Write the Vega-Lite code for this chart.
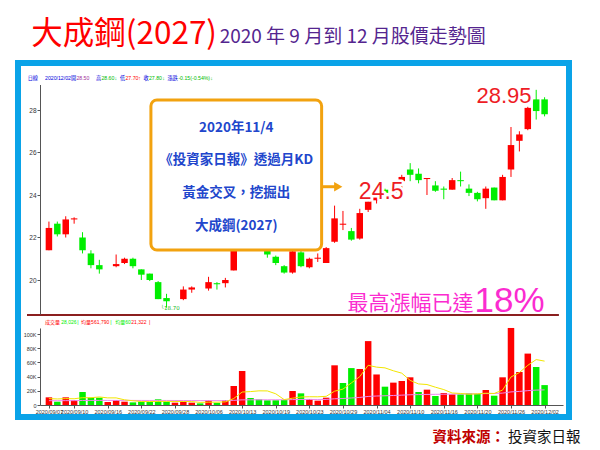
{
  "$schema": "https://vega.github.io/schema/vega-lite/v6.json",
  "width": 551,
  "height": 354,
  "autosize": {"type": "none"},
  "padding": {"left": 18, "top": 63, "right": 31, "bottom": 33},
  "background": "#ffffff",
  "config": {
    "view": {"stroke": "#0aa3e8", "strokeWidth": 6, "fill": "#ffffff"}
  },
  "datasets": {
    "k": [
      {"d": "2020/09/07", "i": 0, "o": 21.40, "h": 22.75, "l": 21.40, "c": 22.45, "v": 10800, "vd": "up", "ma5": 9000, "ma60": 6080},
      {"d": "2020/09/08", "i": 1, "o": 22.65, "h": 22.75, "l": 22.05, "c": 22.15, "v": 4700, "vd": "dn", "ma5": 8500, "ma60": 6060},
      {"d": "2020/09/09", "i": 2, "o": 22.15, "h": 23.00, "l": 22.00, "c": 22.85, "v": 10800, "vd": "up", "ma5": 9000, "ma60": 6140},
      {"d": "2020/09/10", "i": 3, "o": 22.85, "h": 22.95, "l": 22.65, "c": 22.90, "v": 7000, "vd": "up", "ma5": 8800, "ma60": 6160},
      {"d": "2020/09/11", "i": 4, "o": 22.00, "h": 22.25, "l": 21.25, "c": 21.40, "v": 18300, "vd": "dn", "ma5": 10320, "ma60": 6360},
      {"d": "2020/09/14", "i": 5, "o": 21.25, "h": 21.40, "l": 20.55, "c": 20.70, "v": 10300, "vd": "dn", "ma5": 10220, "ma60": 6430},
      {"d": "2020/09/15", "i": 6, "o": 20.70, "h": 20.95, "l": 20.30, "c": 20.50, "v": 10300, "vd": "dn", "ma5": 11340, "ma60": 6500},
      {"d": "2020/09/16", "i": 7, "o": 20.60, "h": 20.60, "l": 20.60, "c": 20.60, "v": 4200, "vd": "up", "ma5": 10020, "ma60": 6470},
      {"d": "2020/09/17", "i": 8, "o": 20.65, "h": 21.20, "l": 20.60, "c": 20.75, "v": 7000, "vd": "up", "ma5": 10020, "ma60": 6490},
      {"d": "2020/09/18", "i": 9, "o": 20.80, "h": 21.05, "l": 20.75, "c": 21.00, "v": 4700, "vd": "up", "ma5": 7300, "ma60": 6470},
      {"d": "2020/09/21", "i": 10, "o": 21.00, "h": 21.05, "l": 20.55, "c": 20.65, "v": 3700, "vd": "dn", "ma5": 5980, "ma60": 6430},
      {"d": "2020/09/22", "i": 11, "o": 20.50, "h": 20.50, "l": 20.00, "c": 20.25, "v": 4700, "vd": "dn", "ma5": 4860, "ma60": 6410},
      {"d": "2020/09/23", "i": 12, "o": 20.30, "h": 20.30, "l": 19.95, "c": 20.00, "v": 4200, "vd": "dn", "ma5": 4860, "ma60": 6380},
      {"d": "2020/09/24", "i": 13, "o": 19.90, "h": 19.95, "l": 19.10, "c": 19.10, "v": 8000, "vd": "dn", "ma5": 5060, "ma60": 6410},
      {"d": "2020/09/25", "i": 14, "o": 19.15, "h": 19.35, "l": 18.70, "c": 19.00, "v": 4700, "vd": "dn", "ma5": 5060, "ma60": 6390},
      {"d": "2020/09/28", "i": 15, "o": 19.05, "h": 19.05, "l": 19.05, "c": 19.05, "v": 3300, "vd": "up", "ma5": 4980, "ma60": 6350},
      {"d": "2020/09/29", "i": 16, "o": 19.10, "h": 19.70, "l": 19.05, "c": 19.55, "v": 4700, "vd": "up", "ma5": 4980, "ma60": 6320},
      {"d": "2020/09/30", "i": 17, "o": 19.55, "h": 19.70, "l": 19.40, "c": 19.65, "v": 3300, "vd": "up", "ma5": 4800, "ma60": 6280},
      {"d": "2020/10/05", "i": 18, "o": 19.60, "h": 19.60, "l": 19.60, "c": 19.60, "v": 2300, "vd": "dn", "ma5": 3660, "ma60": 6220},
      {"d": "2020/10/06", "i": 19, "o": 19.60, "h": 20.15, "l": 19.50, "c": 19.90, "v": 6500, "vd": "up", "ma5": 4020, "ma60": 6230},
      {"d": "2020/10/07", "i": 20, "o": 19.85, "h": 19.90, "l": 19.55, "c": 19.80, "v": 3000, "vd": "dn", "ma5": 3960, "ma60": 6180},
      {"d": "2020/10/08", "i": 21, "o": 19.85, "h": 20.10, "l": 19.65, "c": 20.00, "v": 7000, "vd": "up", "ma5": 4420, "ma60": 6190},
      {"d": "2020/10/12", "i": 22, "o": 20.45, "h": 21.90, "l": 20.45, "c": 21.85, "v": 26800, "vd": "up", "ma5": 9120, "ma60": 6540},
      {"d": "2020/10/13", "i": 23, "o": 21.90, "h": 22.60, "l": 21.60, "c": 22.20, "v": 47900, "vd": "up", "ma5": 18240, "ma60": 7240},
      {"d": "2020/10/14", "i": 24, "o": 22.20, "h": 22.40, "l": 21.80, "c": 21.90, "v": 9900, "vd": "dn", "ma5": 18920, "ma60": 7300},
      {"d": "2020/10/15", "i": 25, "o": 21.90, "h": 22.00, "l": 21.50, "c": 21.60, "v": 8000, "vd": "dn", "ma5": 19920, "ma60": 7340},
      {"d": "2020/10/16", "i": 26, "o": 21.50, "h": 21.55, "l": 21.05, "c": 21.20, "v": 6600, "vd": "dn", "ma5": 19840, "ma60": 7350},
      {"d": "2020/10/19", "i": 27, "o": 21.10, "h": 21.15, "l": 20.70, "c": 20.80, "v": 6600, "vd": "dn", "ma5": 15800, "ma60": 7360},
      {"d": "2020/10/20", "i": 28, "o": 20.65, "h": 20.70, "l": 20.30, "c": 20.35, "v": 7000, "vd": "dn", "ma5": 7620, "ma60": 7370},
      {"d": "2020/10/21", "i": 29, "o": 20.35, "h": 21.45, "l": 20.30, "c": 21.35, "v": 19700, "vd": "up", "ma5": 9580, "ma60": 7600},
      {"d": "2020/10/22", "i": 30, "o": 21.30, "h": 21.40, "l": 20.60, "c": 20.65, "v": 16400, "vd": "dn", "ma5": 11260, "ma60": 7770},
      {"d": "2020/10/23", "i": 31, "o": 20.60, "h": 21.05, "l": 20.55, "c": 21.00, "v": 8500, "vd": "up", "ma5": 11640, "ma60": 7820},
      {"d": "2020/10/26", "i": 32, "o": 21.00, "h": 21.25, "l": 20.85, "c": 21.05, "v": 6100, "vd": "up", "ma5": 11540, "ma60": 7820},
      {"d": "2020/10/27", "i": 33, "o": 20.80, "h": 21.55, "l": 20.80, "c": 21.50, "v": 10300, "vd": "up", "ma5": 12200, "ma60": 7890},
      {"d": "2020/10/28", "i": 34, "o": 21.80, "h": 23.50, "l": 21.75, "c": 22.90, "v": 55900, "vd": "up", "ma5": 19440, "ma60": 8720},
      {"d": "2020/10/29", "i": 35, "o": 22.60, "h": 23.25, "l": 22.35, "c": 22.65, "v": 31000, "vd": "dn", "ma5": 22360, "ma60": 9140},
      {"d": "2020/10/30", "i": 36, "o": 22.30, "h": 22.45, "l": 21.85, "c": 21.90, "v": 52000, "vd": "dn", "ma5": 31060, "ma60": 9900},
      {"d": "2020/11/02", "i": 37, "o": 21.95, "h": 23.35, "l": 21.90, "c": 23.15, "v": 50700, "vd": "up", "ma5": 39980, "ma60": 10650},
      {"d": "2020/11/03", "i": 38, "o": 23.30, "h": 23.90, "l": 23.20, "c": 23.70, "v": 90000, "vd": "up", "ma5": 55920, "ma60": 12050},
      {"d": "2020/11/04", "i": 39, "o": 23.75, "h": 24.50, "l": 23.60, "c": 24.35, "v": 43000, "vd": "up", "ma5": 53340, "ma60": 12670},
      {"d": "2020/11/05", "i": 40, "o": 24.25, "h": 24.30, "l": 24.00, "c": 24.10, "v": 25800, "vd": "dn", "ma5": 52300, "ma60": 13000},
      {"d": "2020/11/06", "i": 41, "o": 24.10, "h": 24.65, "l": 24.00, "c": 24.55, "v": 31500, "vd": "up", "ma5": 48200, "ma60": 13420},
      {"d": "2020/11/09", "i": 42, "o": 24.65, "h": 24.95, "l": 24.10, "c": 24.85, "v": 33800, "vd": "up", "ma5": 44820, "ma60": 13880},
      {"d": "2020/11/10", "i": 43, "o": 25.20, "h": 25.50, "l": 24.65, "c": 24.95, "v": 39000, "vd": "up", "ma5": 34620, "ma60": 14430},
      {"d": "2020/11/11", "i": 44, "o": 25.00, "h": 25.25, "l": 24.55, "c": 24.70, "v": 18300, "vd": "dn", "ma5": 29680, "ma60": 14640},
      {"d": "2020/11/12", "i": 45, "o": 24.75, "h": 24.80, "l": 24.00, "c": 24.80, "v": 21600, "vd": "up", "ma5": 28840, "ma60": 14900},
      {"d": "2020/11/13", "i": 46, "o": 24.45, "h": 24.65, "l": 24.15, "c": 24.20, "v": 12700, "vd": "dn", "ma5": 25080, "ma60": 15010},
      {"d": "2020/11/16", "i": 47, "o": 24.30, "h": 24.40, "l": 23.80, "c": 24.25, "v": 16900, "vd": "up", "ma5": 21700, "ma60": 15190},
      {"d": "2020/11/17", "i": 48, "o": 24.25, "h": 24.80, "l": 24.25, "c": 24.70, "v": 15000, "vd": "up", "ma5": 16900, "ma60": 15340},
      {"d": "2020/11/18", "i": 49, "o": 24.70, "h": 25.10, "l": 24.40, "c": 24.65, "v": 15000, "vd": "dn", "ma5": 16240, "ma60": 15490},
      {"d": "2020/11/19", "i": 50, "o": 24.30, "h": 24.50, "l": 23.95, "c": 24.10, "v": 16400, "vd": "dn", "ma5": 15200, "ma60": 15670},
      {"d": "2020/11/20", "i": 51, "o": 24.10, "h": 24.15, "l": 23.70, "c": 23.80, "v": 15500, "vd": "dn", "ma5": 15760, "ma60": 15820},
      {"d": "2020/11/23", "i": 52, "o": 23.85, "h": 24.40, "l": 23.35, "c": 24.30, "v": 21100, "vd": "up", "ma5": 16600, "ma60": 16080},
      {"d": "2020/11/24", "i": 53, "o": 24.35, "h": 24.35, "l": 23.75, "c": 23.75, "v": 13100, "vd": "dn", "ma5": 16220, "ma60": 16190},
      {"d": "2020/11/25", "i": 54, "o": 23.75, "h": 24.95, "l": 23.75, "c": 24.85, "v": 39000, "vd": "up", "ma5": 21020, "ma60": 16740},
      {"d": "2020/11/26", "i": 55, "o": 25.20, "h": 27.20, "l": 24.85, "c": 26.35, "v": 108500, "vd": "up", "ma5": 39440, "ma60": 18440},
      {"d": "2020/11/27", "i": 56, "o": 26.55, "h": 27.00, "l": 26.05, "c": 26.85, "v": 46500, "vd": "up", "ma5": 45640, "ma60": 19120},
      {"d": "2020/11/30", "i": 57, "o": 27.10, "h": 28.15, "l": 27.05, "c": 28.10, "v": 72400, "vd": "up", "ma5": 55900, "ma60": 20210},
      {"d": "2020/12/01", "i": 58, "o": 28.50, "h": 28.95, "l": 27.55, "c": 27.95, "v": 53500, "vd": "dn", "ma5": 63980, "ma60": 21000},
      {"d": "2020/12/02", "i": 59, "o": 28.50, "h": 28.60, "l": 27.70, "c": 27.80, "v": 28026, "vd": "dn", "ma5": 61790, "ma60": 21322}
    ],
    "ann": [
      {"id": "t1", "t": "大成鋼(2027)", "i": -2.1, "p": 31.09},
      {"id": "t2", "t": "2020 年 9 月到 12 月股價走勢圖", "i": 20.32, "p": 31.14},
      {"id": "src1", "t": "資料來源：", "i": 45.65, "p": 12.38},
      {"id": "src2", "t": "投資家日報", "i": 54.64, "p": 12.38},
      {"id": "box", "i": 12.14, "i2": 32.46, "p": 28.47, "p2": 21.41},
      {"id": "bt", "t": "2020年11/4", "i": 22.3, "p": 27.15},
      {"id": "bt", "t": "《投資家日報》透過月KD", "i": 22.3, "p": 25.65},
      {"id": "bt", "t": "黃金交叉，挖掘出", "i": 22.3, "p": 24.09},
      {"id": "bt", "t": "大成鋼(2027)", "i": 22.3, "p": 22.54},
      {"id": "arrow", "i": 32.46, "i2": 34.2, "p": 24.39},
      {"id": "head", "i": 34.44, "p": 24.39},
      {"id": "bigl", "t": "24.5", "i": 36.89, "p": 23.8},
      {"id": "bigr", "t": "28.95", "i": 57.44, "p": 28.33},
      {"id": "mag1", "t": "最高漲幅已達", "i": 50.55, "p": 18.59},
      {"id": "mag2", "t": "18%", "i": 50.67, "p": 18.49},
      {"id": "low", "t": "└18.70", "i": 13.31, "p": 18.59},
      {"id": "hdr", "k": "lab", "t": "日線", "i": -2.534, "p": 29.41},
      {"id": "hdr", "k": "lab", "t": "2020/12/02", "i": -0.467, "p": 29.41},
      {"id": "hdr", "k": "lab", "t": "開", "i": 2.627, "p": 29.41},
      {"id": "hdr", "k": "open", "t": "28.50", "i": 3.269, "p": 29.41},
      {"id": "hdr", "k": "lab", "t": "高", "i": 5.604, "p": 29.41},
      {"id": "hdr", "k": "dn", "t": "28.60", "i": 6.246, "p": 29.41},
      {"id": "hdr", "k": "dn", "t": "↓", "i": 7.8, "p": 29.41},
      {"id": "hdr", "k": "lab", "t": "低", "i": 8.465, "p": 29.41},
      {"id": "hdr", "k": "up", "t": "27.70", "i": 9.11, "p": 29.41},
      {"id": "hdr", "k": "up", "t": "↑", "i": 10.625, "p": 29.41},
      {"id": "hdr", "k": "lab", "t": "收", "i": 11.27, "p": 29.41},
      {"id": "hdr", "k": "dn", "t": "27.80", "i": 11.91, "p": 29.41},
      {"id": "hdr", "k": "dn", "t": "↓", "i": 13.485, "p": 29.41},
      {"id": "hdr", "k": "lab", "t": "漲跌", "i": 14.127, "p": 29.41},
      {"id": "hdr", "k": "dn", "t": "-0.15(-0.54%)", "i": 15.41, "p": 29.41},
      {"id": "hdr", "k": "dn", "t": "↓", "i": 19.206, "p": 29.41},
      {"id": "vh", "k": "up", "t": "成交量", "i": -0.467, "v": 114000},
      {"id": "vh", "k": "dn", "t": "28,026", "i": 1.459, "v": 114000},
      {"id": "vh", "k": "dn", "t": "|", "i": 3.386, "v": 114000},
      {"id": "vh", "k": "ma5", "t": "均量5", "i": 3.818, "v": 114000},
      {"id": "vh", "k": "ma5", "t": "61,790", "i": 5.371, "v": 114000},
      {"id": "vh", "k": "dn", "t": "|", "i": 7.297, "v": 114000},
      {"id": "vh", "k": "ma60", "t": "均量60", "i": 7.904, "v": 114000},
      {"id": "vh", "k": "up", "t": "21,322", "i": 9.807, "v": 114000},
      {"id": "vh", "k": "up", "t": "|", "i": 11.909, "v": 114000}
    ]
  },
  "encoding": {
    "x": {
      "field": "i", "type": "quantitative",
      "scale": {"domain": [-0.467, 60.596], "range": [22, 545], "nice": false, "zero": false},
      "axis": {
        "orient": "bottom", "offset": -12, "title": null, "grid": false, "zindex": 1,
        "values": [0, 3, 7, 11, 15, 19, 23, 27, 31, 35, 39, 43, 47, 51, 55, 59],
        "labelExpr": "['2020/09/07','2020/09/10','2020/09/16','2020/09/22','2020/09/28','2020/10/06','2020/10/13','2020/10/19','2020/10/23','2020/10/29','2020/11/04','2020/11/10','2020/11/16','2020/11/20','2020/11/26','2020/12/02'][indexof([0,3,7,11,15,19,23,27,31,35,39,43,47,51,55,59], datum.value)]",
        "domainColor": "#555555", "tickColor": "#555555", "tickSize": 3,
        "labelFont": "Liberation Sans", "labelFontSize": 5.5, "labelColor": "#333333",
        "labelPadding": 1, "labelOverlap": false, "labelFlush": false
      }
    }
  },
  "layer": [
    {
      "data": {"name": "k"},
      "encoding": {
        "y": {"field": "l", "type": "quantitative",
          "scale": {"domain": [18.4, 29.2], "range": [251, 21.5], "nice": false, "zero": false},
          "axis": {"orient": "left", "offset": -22, "title": null, "grid": false, "zindex": 1,
            "values": [20, 22, 24, 26, 28], "domainColor": "#555555", "tickColor": "#555555", "tickSize": 3,
            "labelFont": "Liberation Sans", "labelFontSize": 6.5, "labelColor": "#333333", "labelPadding": 1}}
      },
      "layer": [
        {
          "mark": {"type": "rule", "strokeWidth": 1},
          "encoding": {
            "y2": {"field": "h"},
            "color": {"condition": {"test": "datum.c >= datum.o", "value": "#ff0000"}, "value": "#00ee00"}
          }
        },
        {
          "mark": {"type": "bar", "width": 6.5},
          "encoding": {
            "y": {"field": "o", "type": "quantitative", "scale": {"domain": [18.4, 29.2], "range": [251, 21.5], "nice": false, "zero": false}},
            "y2": {"field": "c"},
            "color": {"condition": {"test": "datum.c >= datum.o", "value": "#ff0000"}, "value": "#00ee00"}
          }
        },
        {
          "mark": {"type": "rule", "color": "#8b1f1f", "strokeWidth": 2},
          "encoding": {
            "x": {"datum": -2.57, "type": "quantitative", "scale": {"domain": [-0.467, 60.596], "range": [22, 545], "nice": false, "zero": false}},
            "x2": {"datum": 60.6},
            "y": {"datum": 18.35, "type": "quantitative", "scale": {"domain": [18.4, 29.2], "range": [251, 21.5], "nice": false, "zero": false}}
          }
        },
        {
          "data": {"name": "ann"},
          "transform": [{"filter": "datum.id == 'box'"}],
          "mark": {"type": "rect", "fill": "#9a9a9a", "opacity": 0.45, "xOffset": 3, "yOffset": 3, "cornerRadius": 6},
          "encoding": {
            "x2": {"field": "i2"},
            "y": {"field": "p", "type": "quantitative", "scale": {"domain": [18.4, 29.2], "range": [251, 21.5], "nice": false, "zero": false}},
            "y2": {"field": "p2"}
          }
        },
        {
          "data": {"name": "ann"},
          "transform": [{"filter": "datum.id == 'box'"}],
          "mark": {"type": "rect", "fill": "#ffffff", "stroke": "#f2a20f", "strokeWidth": 3, "cornerRadius": 6},
          "encoding": {
            "x2": {"field": "i2"},
            "y": {"field": "p", "type": "quantitative", "scale": {"domain": [18.4, 29.2], "range": [251, 21.5], "nice": false, "zero": false}},
            "y2": {"field": "p2"}
          }
        },
        {
          "data": {"name": "ann"},
          "transform": [{"filter": "datum.id == 'bt'"}],
          "mark": {"type": "text", "font": "Noto Sans CJK TC", "fontWeight": "bold", "fontSize": 13.5, "color": "#2146cc", "align": "center", "baseline": "middle"},
          "encoding": {
            "text": {"field": "t"},
            "y": {"field": "p", "type": "quantitative", "scale": {"domain": [18.4, 29.2], "range": [251, 21.5], "nice": false, "zero": false}}
          }
        },
        {
          "data": {"name": "ann"},
          "transform": [{"filter": "datum.id == 'arrow'"}],
          "mark": {"type": "rule", "color": "#f2a20f", "strokeWidth": 3},
          "encoding": {
            "x2": {"field": "i2"},
            "y": {"field": "p", "type": "quantitative", "scale": {"domain": [18.4, 29.2], "range": [251, 21.5], "nice": false, "zero": false}}
          }
        },
        {
          "data": {"name": "ann"},
          "transform": [{"filter": "datum.id == 'head'"}],
          "mark": {"type": "point", "shape": "triangle-right", "filled": true, "color": "#f2a20f", "size": 90, "opacity": 1},
          "encoding": {
            "y": {"field": "p", "type": "quantitative", "scale": {"domain": [18.4, 29.2], "range": [251, 21.5], "nice": false, "zero": false}}
          }
        },
        {
          "data": {"name": "ann"},
          "transform": [{"filter": "datum.id == 'bigl'"}],
          "mark": {"type": "text", "font": "Liberation Sans", "fontSize": 23, "align": "left", "baseline": "alphabetic", "fill": "#ffffff", "stroke": "#ffffff", "strokeWidth": 5, "strokeJoin": "round"},
          "encoding": {
            "text": {"field": "t"},
            "y": {"field": "p", "type": "quantitative", "scale": {"domain": [18.4, 29.2], "range": [251, 21.5], "nice": false, "zero": false}}
          }
        },
        {
          "data": {"name": "ann"},
          "transform": [{"filter": "datum.id == 'bigl'"}],
          "mark": {"type": "text", "font": "Liberation Sans", "fontSize": 23, "align": "left", "baseline": "alphabetic", "fill": "#ee1c25"},
          "encoding": {
            "text": {"field": "t"},
            "y": {"field": "p", "type": "quantitative", "scale": {"domain": [18.4, 29.2], "range": [251, 21.5], "nice": false, "zero": false}}
          }
        },
        {
          "data": {"name": "ann"},
          "transform": [{"filter": "datum.id == 'bigr'"}],
          "mark": {"type": "text", "font": "Liberation Sans", "fontSize": 22, "align": "right", "baseline": "alphabetic", "fill": "#ffffff", "stroke": "#ffffff", "strokeWidth": 5, "strokeJoin": "round"},
          "encoding": {
            "text": {"field": "t"},
            "y": {"field": "p", "type": "quantitative", "scale": {"domain": [18.4, 29.2], "range": [251, 21.5], "nice": false, "zero": false}}
          }
        },
        {
          "data": {"name": "ann"},
          "transform": [{"filter": "datum.id == 'bigr'"}],
          "mark": {"type": "text", "font": "Liberation Sans", "fontSize": 22, "align": "right", "baseline": "alphabetic", "fill": "#ee1c25"},
          "encoding": {
            "text": {"field": "t"},
            "y": {"field": "p", "type": "quantitative", "scale": {"domain": [18.4, 29.2], "range": [251, 21.5], "nice": false, "zero": false}}
          }
        },
        {
          "data": {"name": "ann"},
          "transform": [{"filter": "datum.id == 'mag1'"}],
          "mark": {"type": "text", "font": "Noto Sans CJK TC", "fontSize": 21, "align": "right", "baseline": "alphabetic", "fill": "#fb2bd0"},
          "encoding": {
            "text": {"field": "t"},
            "y": {"field": "p", "type": "quantitative", "scale": {"domain": [18.4, 29.2], "range": [251, 21.5], "nice": false, "zero": false}}
          }
        },
        {
          "data": {"name": "ann"},
          "transform": [{"filter": "datum.id == 'mag2'"}],
          "mark": {"type": "text", "font": "Liberation Sans", "fontSize": 35, "align": "left", "baseline": "alphabetic", "fill": "#fb2bd0"},
          "encoding": {
            "text": {"field": "t"},
            "y": {"field": "p", "type": "quantitative", "scale": {"domain": [18.4, 29.2], "range": [251, 21.5], "nice": false, "zero": false}}
          }
        },
        {
          "data": {"name": "ann"},
          "transform": [{"filter": "datum.id == 'low'"}],
          "mark": {"type": "text", "font": "DejaVu Sans", "fontSize": 5.5, "align": "left", "baseline": "alphabetic", "fill": "#22bb22"},
          "encoding": {
            "text": {"field": "t"},
            "y": {"field": "p", "type": "quantitative", "scale": {"domain": [18.4, 29.2], "range": [251, 21.5], "nice": false, "zero": false}}
          }
        },
        {
          "data": {"name": "ann"},
          "transform": [{"filter": "datum.id == 't1'"}],
          "mark": {"type": "text", "font": "Noto Sans CJK TC", "fontSize": 31.5, "align": "left", "baseline": "alphabetic", "fill": "#ff0000"},
          "encoding": {
            "text": {"field": "t"},
            "y": {"field": "p", "type": "quantitative", "scale": {"domain": [18.4, 29.2], "range": [251, 21.5], "nice": false, "zero": false}}
          }
        },
        {
          "data": {"name": "ann"},
          "transform": [{"filter": "datum.id == 't2'"}],
          "mark": {"type": "text", "font": "Noto Sans CJK TC", "fontSize": 19, "align": "left", "baseline": "alphabetic", "fill": "#54258f"},
          "encoding": {
            "text": {"field": "t"},
            "y": {"field": "p", "type": "quantitative", "scale": {"domain": [18.4, 29.2], "range": [251, 21.5], "nice": false, "zero": false}}
          }
        },
        {
          "data": {"name": "ann"},
          "transform": [{"filter": "datum.id == 'src1'"}],
          "mark": {"type": "text", "font": "Noto Sans CJK TC", "fontWeight": "bold", "fontSize": 14.5, "align": "left", "baseline": "alphabetic", "fill": "#c00000"},
          "encoding": {
            "text": {"field": "t"},
            "y": {"field": "p", "type": "quantitative", "scale": {"domain": [18.4, 29.2], "range": [251, 21.5], "nice": false, "zero": false}}
          }
        },
        {
          "data": {"name": "ann"},
          "transform": [{"filter": "datum.id == 'src2'"}],
          "mark": {"type": "text", "font": "Noto Sans CJK TC", "fontSize": 14.5, "align": "left", "baseline": "alphabetic", "fill": "#111111"},
          "encoding": {
            "text": {"field": "t"},
            "y": {"field": "p", "type": "quantitative", "scale": {"domain": [18.4, 29.2], "range": [251, 21.5], "nice": false, "zero": false}}
          }
        },
        {
          "data": {"name": "ann"},
          "transform": [{"filter": "datum.id == 'hdr'"}],
          "mark": {"type": "text", "font": "Liberation Sans, Noto Sans CJK TC", "fontSize": 5.2, "align": "left", "baseline": "alphabetic"},
          "encoding": {
            "text": {"field": "t"},
            "y": {"field": "p", "type": "quantitative", "scale": {"domain": [18.4, 29.2], "range": [251, 21.5], "nice": false, "zero": false}},
            "color": {"field": "k", "type": "nominal", "scale": {"domain": ["lab", "open", "up", "dn", "ma5", "ma60"], "range": ["#0000dd", "#a0309a", "#ff0000", "#00bb00", "#c8c000", "#ee66ee"]}, "legend": null}
          }
        }
      ]
    },
    {
      "data": {"name": "k"},
      "encoding": {
        "y": {"field": "v", "type": "quantitative",
          "scale": {"domain": [0, 108500], "range": [342, 264.965], "nice": false, "zero": false},
          "axis": {"orient": "left", "offset": -22, "title": null, "grid": false, "zindex": 1,
            "values": [0, 20000, 40000, 60000, 80000, 100000],
            "labelExpr": "datum.value == 0 ? '0' : format(datum.value / 1000, 'd') + 'K'",
            "domainColor": "#555555", "tickColor": "#555555", "tickSize": 3,
            "labelFont": "Liberation Sans", "labelFontSize": 5.5, "labelColor": "#333333", "labelPadding": 1}}
      },
      "layer": [
        {
          "mark": {"type": "bar", "width": 6.5},
          "encoding": {
            "color": {"field": "vd", "type": "nominal", "scale": {"domain": ["up", "dn"], "range": ["#ff0000", "#00ee00"]}, "legend": null}
          }
        },
        {
          "mark": {"type": "line", "color": "#ee88ee", "strokeWidth": 1},
          "encoding": {
            "y": {"field": "ma60", "type": "quantitative", "scale": {"domain": [0, 108500], "range": [342, 264.965], "nice": false, "zero": false}}
          }
        },
        {
          "mark": {"type": "line", "color": "#f2e600", "strokeWidth": 1},
          "encoding": {
            "y": {"field": "ma5", "type": "quantitative", "scale": {"domain": [0, 108500], "range": [342, 264.965], "nice": false, "zero": false}}
          }
        },
        {
          "data": {"name": "ann"},
          "transform": [{"filter": "datum.id == 'vh'"}],
          "mark": {"type": "text", "font": "Liberation Sans, Noto Sans CJK TC", "fontSize": 5, "align": "left", "baseline": "alphabetic"},
          "encoding": {
            "text": {"field": "t"},
            "color": {"field": "k", "type": "nominal", "scale": {"domain": ["up", "dn", "ma5", "ma60"], "range": ["#ff0000", "#00bb00", "#c8c000", "#ee66ee"]}, "legend": null}
          }
        }
      ]
    }
  ],
  "resolve": {"scale": {"y": "independent", "color": "independent"}, "axis": {"y": "independent"}}
}
